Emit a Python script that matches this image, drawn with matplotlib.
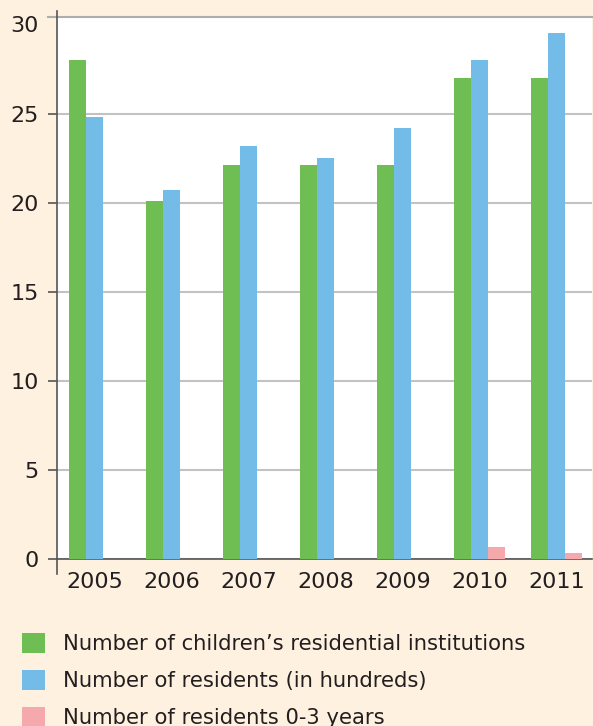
import matplotlib
matplotlib.use('Agg')
import matplotlib.pyplot as plt
import numpy as np

# values
years = ['2005', '2006', '2007', '2008', '2009', '2010', '2011']
institutions = [28.0, 20.1, 22.1, 22.1, 22.1, 27.0, 27.0]
residents_hundreds = [24.8, 20.7, 23.2, 22.5, 24.2, 28.0, 29.5]
residents_0_3 = [0, 0, 0, 0, 0, 0.69, 0.35]
labels = ["Number of children\u2019s residential institutions",
          "Number of residents (in hundreds)",
          "Number of residents 0-3 years"]

bg = '#FEF1DF'
c_green = '#6FBE54'
c_blue = '#74BCE8'
c_pink = '#F6A9AC'
txt = '#231F20'
axcol = '#555555'

fig = plt.figure(figsize=(5.93, 7.26), dpi=100, facecolor=bg)
ax = fig.add_axes([57/593, 1-559.3/726, 534.7/593, 542.6/726])
ax.set_facecolor('white')

x = np.arange(len(years))
w = 0.22
b1 = ax.bar(x - w, institutions, w, color=c_green, zorder=3)
b2 = ax.bar(x, residents_hundreds, w, color=c_blue, zorder=3)
b3 = ax.bar(x + w, residents_0_3, w, color=c_pink, zorder=3)

xl, xr = -0.487, 6.457
ytop = 30.43
ax.set_xlim(xl, xr)
ax.set_ylim(0, ytop)
ax.set_yticks([0, 5, 10, 15, 20, 25, 30])
ax.set_xticks(x)
ax.set_xticklabels(years)
ax.yaxis.grid(True, color='#C2C2C2', lw=1.5, zorder=0)
for s in ['top', 'right', 'left']:
    ax.spines[s].set_visible(False)
ax.spines['bottom'].set_color(axcol)
ax.spines['bottom'].set_linewidth(1.2)
ax.tick_params(axis='y', length=6.5, width=1.2, color=axcol, labelsize=16,
               labelcolor=txt, pad=6.5)
ax.tick_params(axis='x', length=0, labelsize=16, labelcolor=txt, pad=9)
# the 30 tick sits under the top frame line in the original
top_tick = ax.yaxis.get_major_ticks()[-1]
top_tick.tick1line.set_visible(False)
top_tick.gridline.set_visible(False)

# top frame line, reaching left like a tick
dx = 9 / 77
ax.plot([xl - dx, xr], [ytop, ytop], color='#ADADAD', lw=1.5,
        clip_on=False, zorder=4)
# left axis line reaching a bit above and below the plot
ax.plot([xl, xl], [-0.85, ytop + 0.3], color=axcol, lw=1.2,
        clip_on=False, zorder=5)

leg = fig.legend([b1, b2, b3], labels, loc='upper left',
                 bbox_to_anchor=(22/593, 1-632.5/726), frameon=False,
                 fontsize=15.2, handlelength=1.09, handleheight=1.09,
                 handletextpad=0.85, labelspacing=0.75, borderpad=0,
                 borderaxespad=0)
for t in leg.get_texts():
    t.set_color(txt)

fig.savefig('out.png', dpi=100, facecolor=bg)
